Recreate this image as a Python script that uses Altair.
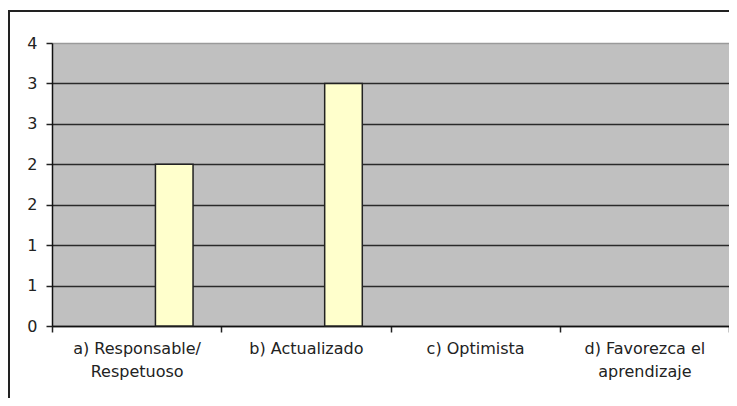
import altair as alt
import pandas as pd

categories = ["a) Responsable/\nRespetuoso", "b) Actualizado", "c) Optimista", "d) Favorezca el\naprendizaje"]
series_names = ["Serie1", "Serie2", "Serie3"]
serie1 = [0, 0, 0, 0]
serie2 = [0, 0, 0, 0]
serie3 = [2, 3, 0, 0]
y_ticks = [0, 0.5, 1, 1.5, 2, 2.5, 3, 3.5]

rows = []
for name, vals in zip(series_names, [serie1, serie2, serie3]):
    for c, v in zip(categories, vals):
        rows.append({"categoria": c, "serie": name, "valor": v})
df = pd.DataFrame(rows)

FONT = "DejaVu Sans"

bars = alt.Chart(df).transform_filter("datum.valor > 0").mark_bar(
    fill="#FFFFCC", stroke="#222222", strokeWidth=1.5
).encode(
    x=alt.X("categoria:N", sort=categories,
            scale=alt.Scale(domain=categories, paddingInner=0, paddingOuter=0),
            axis=alt.Axis(title=None, labelAngle=0, tickBand="extent",
                          labelExpr="split(datum.label, '\\n')",
                          labelFont=FONT, labelFontSize=16, labelColor="#222222",
                          labelLineHeight=23, labelPadding=8,
                          tickSize=6, tickColor="#222222", tickWidth=1.5,
                          domainColor="#111111", domainWidth=1.5, grid=False)),
    xOffset=alt.XOffset("serie:N", scale=alt.Scale(domain=series_names, paddingInner=0, paddingOuter=0.75)),
    y=alt.Y("valor:Q", scale=alt.Scale(domain=[0, 3.5], nice=False, zero=True),
            axis=alt.Axis(title=None, values=y_ticks,
                          labelExpr="format(round(datum.value), 'd')",
                          labelFont=FONT, labelFontSize=16, labelColor="#222222",
                          labelPadding=9, tickSize=6, tickColor="#222222", tickWidth=1.5,
                          domainColor="#111111", domainWidth=1.5,
                          grid=True, gridWidth=1.5,
                          gridColor={"condition": {"test": "datum.value >= 3.5", "value": "#9a9a9a"}, "value": "#2a2a2a"})),
)

border = alt.Chart(pd.DataFrame({"k": [0]})).mark_rect(
    fill=None, stroke="#222222", strokeWidth=2
).encode(
    x=alt.value(-43), x2=alt.value(720), y=alt.value(-32), y2=alt.value(420)
)

chart = alt.layer(bars, border).properties(
    width=677, height=283,
    autosize="none",
    padding={"left": 44, "top": 35, "right": 0, "bottom": 72},
    background="white",
).configure_view(
    fill="#C0C0C0", stroke="#9a9a9a", strokeWidth=1
)

chart.save("out.html", embed_options={"renderer": "svg", "actions": False})
